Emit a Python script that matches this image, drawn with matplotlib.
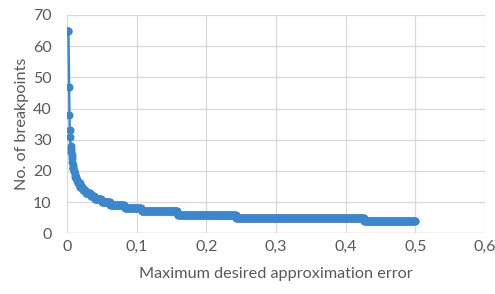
import numpy as np
import matplotlib
matplotlib.use("Agg")
import matplotlib.pyplot as plt

# Breakpoint counts and the error threshold from which each count applies
threshold = [0.0005, 0.003, 0.0035, 0.004, 0.0045, 0.005, 0.0055, 0.006, 0.0065,
             0.007, 0.0075, 0.008, 0.009, 0.010, 0.011, 0.012, 0.014, 0.016,
             0.019, 0.023, 0.027, 0.034, 0.040, 0.050, 0.062, 0.083, 0.107,
             0.159, 0.243, 0.427]
n_breakpoints = [65, 47, 38, 33, 31, 28, 27, 26, 25, 24, 23, 22, 21, 20, 19, 18,
                 17, 16, 15, 14, 13, 12, 11, 10, 9, 8, 7, 6, 5, 4]
x_end = 0.5
x_step = 0.001  # sampling of desired error

x_ticks = [0, 0.1, 0.2, 0.3, 0.4, 0.5, 0.6]
x_ticklabels = ["0", "0,1", "0,2", "0,3", "0,4", "0,5", "0,6"]
y_ticks = [0, 10, 20, 30, 40, 50, 60, 70]

# sample points: the breakpoint thresholds plus a regular grid of error values
grid = np.arange(x_step, x_end + x_step / 2, x_step)
xs = np.unique(np.concatenate([threshold, grid]))
idx = np.searchsorted(threshold, xs, side="right") - 1
ys = np.array(n_breakpoints)[idx]

plt.rcParams['font.family'] = ['Lato', 'DejaVu Sans']
fig = plt.figure(figsize=(4.95, 2.94), dpi=100)
ax = fig.add_axes([0.1354, 0.2065, 0.8444, 0.7425])

color = "#3C86CE"
ax.plot(xs, ys, color=color, lw=1.7, marker="o", ms=4.8, mec=color, mfc=color, zorder=3)

ax.set_xlim(0, 0.6)
ax.set_ylim(0, 70)
ax.set_xticks(x_ticks)
ax.set_xticklabels(x_ticklabels)
ax.set_yticks(y_ticks)
ax.grid(True, color="#D9D9D9", lw=0.9)
for s in ax.spines.values():
    s.set_visible(False)
ax.axhline(0, color="#D9D9D9", lw=1.0, zorder=1)
ax.tick_params(axis="both", length=0, colors="#595959", labelsize=11.5)
ax.tick_params(axis="y", pad=11)
ax.tick_params(axis="x", pad=5)
ax.set_xlabel("Maximum desired approximation error", color="#595959", fontsize=11.7, labelpad=9)
ax.set_ylabel("No. of breakpoints", color="#595959", fontsize=11.7, labelpad=3)

fig.savefig("out.png", dpi=100)
